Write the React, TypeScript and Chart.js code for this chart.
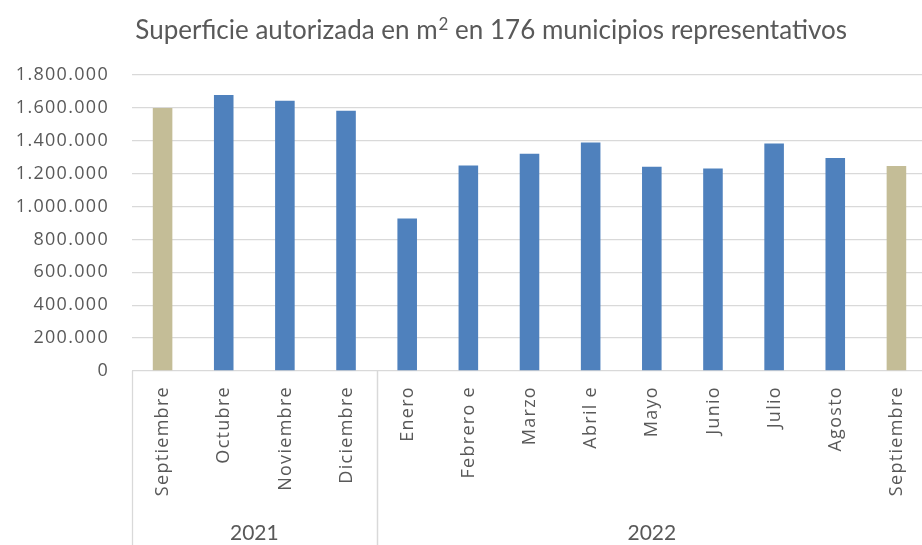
import React, { useEffect, useRef } from 'react';
import { Chart, registerables } from 'chart.js';

Chart.register(...registerables);

const TITLE_PARTS = ['Superficie autorizada en m', '2', ' en 176 municipios representativos'];
const months = [
  'Septiembre', 'Octubre', 'Noviembre', 'Diciembre',
  'Enero', 'Febrero e', 'Marzo', 'Abril e', 'Mayo', 'Junio', 'Julio', 'Agosto', 'Septiembre',
];
const years = [
  '2021', '2021', '2021', '2021',
  '2022', '2022', '2022', '2022', '2022', '2022', '2022', '2022', '2022',
];
const values = [
  1600000, 1678000, 1643000, 1582000,
  927000, 1250000, 1321000, 1390000, 1242000, 1232000, 1384000, 1295000, 1246000,
];
const Y_MIN = 0;
const Y_MAX = 1800000;
const Y_STEP = 200000;

const BLUE = '#4F81BD';
const TAN = '#C4BD97';
const TEXT = '#595959';
const GRID = '#D9D9D9';

const fmt = (n: number) => String(Math.round(n)).replace(/\B(?=(\d{3})+(?!\d))/g, '.');

export default function App() {
  const ref = useRef<HTMLCanvasElement | null>(null);

  useEffect(() => {
    document.body.style.margin = '0';
    const canvas = ref.current;
    if (!canvas) return;
    const lastMonth = months[months.length - 1];
    const colors = months.map((m) => (m === lastMonth ? TAN : BLUE));

    const axisPlugin = {
      id: 'excelAxis',
      beforeDraw(chart: any) {
        (chart.ctx as any).letterSpacing = '1.3px';
      },
      afterDraw(chart: any) {
        const ctx = chart.ctx as CanvasRenderingContext2D & { letterSpacing: string };
        const xs = chart.scales.x;
        const area = chart.chartArea;
        const H = chart.height;
        ctx.save();
        // month labels
        ctx.letterSpacing = '1.3px';
        ctx.fillStyle = TEXT;
        ctx.font = '18px "Open Sans"';
        ctx.textAlign = 'right';
        ctx.textBaseline = 'middle';
        months.forEach((m, i) => {
          const x = xs.getPixelForValue(i);
          ctx.save();
          ctx.translate(x + 0.5, area.bottom + 15);
          ctx.rotate(-Math.PI / 2);
          ctx.fillText(m, 0, 0);
          ctx.restore();
        });
        // year groups
        const groups: { label: string; start: number; end: number }[] = [];
        years.forEach((y, i) => {
          const g = groups[groups.length - 1];
          if (g && g.label === y) g.end = i;
          else groups.push({ label: y, start: i, end: i });
        });
        const half = (xs.getPixelForValue(1) - xs.getPixelForValue(0)) / 2;
        ctx.strokeStyle = GRID;
        ctx.lineWidth = 1.3;
        ctx.letterSpacing = '0px';
        ctx.font = '21px Lato';
        ctx.textAlign = 'center';
        ctx.textBaseline = 'alphabetic';
        groups.forEach((g) => {
          const left = xs.getPixelForValue(g.start) - half;
          const right = xs.getPixelForValue(g.end) + half;
          [left, right].forEach((lx) => {
            ctx.beginPath();
            ctx.moveTo(Math.round(lx) + 0.5, area.bottom);
            ctx.lineTo(Math.round(lx) + 0.5, H);
            ctx.stroke();
          });
          ctx.fillText(g.label, (left + right) / 2, H - 5);
        });
        // title with superscript
        ctx.textAlign = 'left';
        const mainFont = '26px Lato';
        const supFont = '17px Lato';
        ctx.font = mainFont;
        const w0 = ctx.measureText(TITLE_PARTS[0]).width;
        const w2 = ctx.measureText(TITLE_PARTS[2]).width;
        ctx.font = supFont;
        const w1 = ctx.measureText(TITLE_PARTS[1]).width + 1;
        const right = 847;
        const start = right - (w0 + w1 + w2);
        const base = 39;
        ctx.font = mainFont;
        ctx.fillText(TITLE_PARTS[0], start, base);
        ctx.font = supFont;
        ctx.fillText(TITLE_PARTS[1], start + w0 + 1, base - 9);
        ctx.font = mainFont;
        ctx.fillText(TITLE_PARTS[2], start + w0 + w1, base);
        ctx.restore();
      },
    };

    const chart = new Chart(canvas, {
      type: 'bar',
      data: {
        labels: months.map((m, i) => `${m} ${years[i]}`),
        datasets: [
          {
            data: values,
            backgroundColor: colors,
            borderWidth: 0,
            barPercentage: 0.32,
            categoryPercentage: 1,
          },
        ],
      },
      options: {
        responsive: false,
        animation: false,
        devicePixelRatio: 1,
        layout: { padding: { top: 75, left: 0, right: 0, bottom: 0 } },
        plugins: { legend: { display: false }, tooltip: { enabled: false }, title: { display: false } },
        scales: {
          x: {
            type: 'category',
            grid: { display: false },
            border: { display: false },
            ticks: { display: false },
            afterFit: (scale: any) => {
              scale.height = 174;
            },
          },
          y: {
            min: Y_MIN,
            max: Y_MAX,
            border: { display: false },
            grid: { color: GRID, lineWidth: 1.3, drawTicks: false },
            ticks: {
              stepSize: Y_STEP,
              padding: 23,
              color: TEXT,
              font: { family: '"Open Sans"', size: 18 },
              callback: (v: any) => fmt(Number(v)),
            },
            afterFit: (scale: any) => {
              scale.width = 132;
            },
          },
        },
      },
      plugins: [axisPlugin],
    });
    return () => chart.destroy();
  }, []);

  return (
    <div style={{ width: 922, height: 545, overflow: 'hidden', background: '#fff' }}>
      <canvas ref={ref} width={927} height={545} style={{ display: 'block' }} />
    </div>
  );
}
